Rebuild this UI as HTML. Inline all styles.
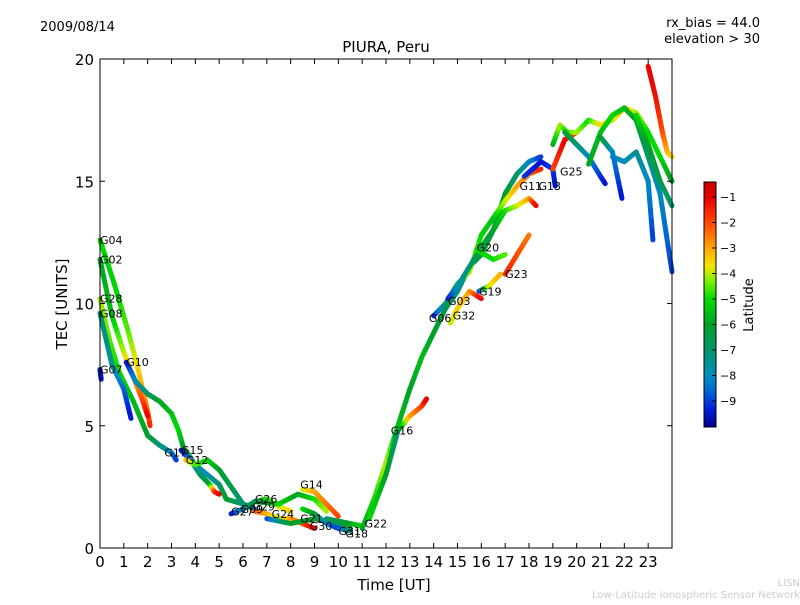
<!DOCTYPE html>
<html><head><meta charset="utf-8"><style>
body{margin:0;background:#fff;}
svg text{font-family:"DejaVu Sans","Liberation Sans",sans-serif;}
</style></head><body>
<svg id="chart" width="800" height="600" viewBox="0 0 800 600" xmlns="http://www.w3.org/2000/svg">
<defs>
<linearGradient id="jet" x1="0" y1="1" x2="0" y2="0">
<stop offset="0" stop-color="rgb(0,0,140)"/>
<stop offset="0.073" stop-color="rgb(0,30,220)"/>
<stop offset="0.156" stop-color="rgb(0,110,210)"/>
<stop offset="0.208" stop-color="rgb(0,140,190)"/>
<stop offset="0.3125" stop-color="rgb(0,150,110)"/>
<stop offset="0.417" stop-color="rgb(0,160,40)"/>
<stop offset="0.521" stop-color="rgb(0,220,0)"/>
<stop offset="0.594" stop-color="rgb(120,240,0)"/>
<stop offset="0.656" stop-color="rgb(240,230,0)"/>
<stop offset="0.729" stop-color="rgb(255,170,0)"/>
<stop offset="0.833" stop-color="rgb(255,70,0)"/>
<stop offset="0.9375" stop-color="rgb(230,0,0)"/>
<stop offset="1" stop-color="rgb(200,0,0)"/>
</linearGradient>
</defs>
<text x="40" y="31" font-size="13">2009/08/14</text>
<text x="760" y="27" font-size="13" text-anchor="end">rx_bias = 44.0</text>
<text x="760" y="43" font-size="13" text-anchor="end">elevation &gt; 30</text>
<text x="386" y="52" font-size="15" text-anchor="middle">PIURA, Peru</text>
<text x="394" y="590" font-size="15" text-anchor="middle">Time [UT]</text>
<text x="67" y="304" font-size="15" text-anchor="middle" transform="rotate(-90 67 304)">TEC [UNITS]</text>
<text x="800" y="586" font-size="10" fill="#ccc" text-anchor="end">LISN</text>
<text x="800" y="598" font-size="10" fill="#ccc" text-anchor="end">Low-Latitude Ionospheric Sensor Network</text>
<g id="marks"></g>
<g id="labels"></g>
<rect x="100" y="59" width="572" height="489" fill="none" stroke="#000" stroke-width="1"/>
<g id="axes"></g>
<rect x="704" y="182" width="12" height="245" fill="url(#jet)" stroke="#000" stroke-width="1"/>
<g id="cbticks"></g>
<text x="753" y="305" font-size="13" text-anchor="middle" transform="rotate(-90 753 305)">Latitude</text>
</svg>
<script>
const xTicks=[0,1,2,3,4,5,6,7,8,9,10,11,12,13,14,15,16,17,18,19,20,21,22,23];
const yTicks=[0,5,10,15,20];
const cbTicks=[-1,-2,-3,-4,-5,-6,-7,-8,-9];
// each track: points [hour, tec, latitude]
const trackG04=[[0,12.6,-5],[0.6,10.8,-5.2],[1.2,8.8,-4.5],[1.6,7.3,-3.5],[2.0,5.6,-2.5],[2.1,5.0,-1.5]];
const trackG02=[[0,11.8,-6],[0.5,9.5,-5.5],[1,8,-4],[1.4,7,-3],[1.8,6,-2],[2.0,5.4,-1]];
const trackG28=[[0,10.2,-4],[0.4,8.5,-4.5],[0.8,7.2,-5],[1.4,6,-5.5],[2,4.6,-6],[2.5,4.2,-7],[3,3.9,-8],[3.2,3.6,-9]];
const trackG08=[[0,9.6,-7],[0.5,7.5,-7.5],[1,6.5,-8.5],[1.3,5.3,-9.5]];
const trackG07=[[0,7.3,-9.5],[0.05,6.9,-9.5]];
const trackG10=[[1.1,7.6,-9.5],[1.5,6.8,-8],[2,6.3,-7],[2.5,6.0,-6],[3,5.5,-5.5],[3.3,4.8,-5],[3.5,4.1,-6],[4,3.4,-7],[4.5,3,-8],[5,2.6,-7],[5.3,2.0,-6],[6,1.8,-7],[6.5,1.6,-8]];
const trackG15=[[3.4,4.0,-9.5],[3.8,3.6,-8.5],[4.2,3.0,-7],[4.6,2.6,-6],[4.8,2.3,-2],[5,2.2,-1]];
const trackG12=[[3.6,3.6,-3],[4,3.4,-4.5],[4.5,3.6,-5],[5,3.2,-6],[5.5,2.5,-6.5],[6,1.8,-7],[6.5,1.6,-8]];
const trackG27=[[5.5,1.4,-9.5],[6,1.6,-8],[6.5,1.9,-6],[7,2.0,-5],[7.5,1.7,-4],[8,1.5,-3.5]];
const trackG26=[[6.5,1.9,-7],[7.5,1.8,-5],[8.3,2.2,-6],[9,2.0,-5],[9.5,1.5,-4]];
const trackG24=[[6.5,1.5,-2],[7,1.4,-3],[7.5,1.2,-4],[8,1.2,-3],[8.5,1.0,-2],[9,0.8,-1]];
const trackG14=[[8.5,2.4,-4],[9,2.3,-3],[9.5,1.8,-2.5],[10,1.3,-2]];
const trackG21=[[7,1.2,-9],[8,1.0,-6],[9,1.2,-6],[10,1.0,-7],[10.5,0.8,-6]];
const trackG30=[[8.5,1.6,-5],[9,1.4,-6],[9.5,1.0,-8],[10,0.8,-9],[10.5,0.7,-7]];
const trackG18=[[9.5,1.2,-7],[10.5,1.0,-6],[11,0.9,-5]];
const trackG22=[[11,0.8,-6],[11.5,2,-5],[12,3.5,-4],[12.5,5,-5.5],[13,6.5,-6],[13.5,7.8,-5.5],[14,8.8,-6],[14.5,9.8,-6.5],[15,10.5,-7],[15.5,11.5,-7.5],[16,12,-6],[16.5,13,-6.5],[17,14.5,-6],[17.5,15.3,-7],[18,15.8,-8],[18.5,16,-9]];
const trackG16=[[11.3,1.2,-5],[12,3,-6],[12.5,4.8,-7],[13,5.4,-3],[13.5,5.8,-2],[13.7,6.1,-1]];
const trackG06=[[14,9.5,-9.5],[14.5,10,-7],[15,10.8,-5.5],[15.5,11.3,-4],[16,12.8,-5],[16.5,13.5,-5.5],[17,14.2,-4],[17.5,14.8,-3],[18,15.3,-2.5],[18.5,15.5,-1.5]];
const trackG03=[[14.6,10.2,-9.5],[15,10.7,-8],[15.5,11.5,-7],[16,12.3,-6.5],[16.5,13,-6],[17,13.8,-5],[17.5,14,-4],[18,14.3,-3],[18.3,14,-1]];
const trackG32=[[14.7,9.2,-4],[15,9.8,-3.5],[15.5,10.5,-3],[16,10.2,-1]];
const trackG19=[[15.9,10.5,-9.5],[16.3,10.7,-4],[16.8,11.2,-3]];
const trackG20=[[15.8,12.2,-5],[16.5,11.8,-5],[17,12,-4.5]];
const trackG23=[[17,11.2,-1.5],[17.5,12,-2],[18,12.8,-2.5]];
const trackG11=[[17.8,15.2,-9],[18.5,15.8,-9.5],[19,15.5,-9],[19.1,14.8,-9.5]];
const trackG25=[[19,15.5,-2],[19.5,16.7,-1],[20,17,-2]];
const trackA=[[19,16.5,-6],[19.3,17.3,-4],[19.6,17,-5],[20,17,-4],[20.5,17.5,-5],[21,17.3,-3.5],[21.5,17.5,-4],[22,18,-3],[22.5,17.8,-4],[23,17,-5],[23.5,16,-5],[24,15,-6]];
const trackB=[[19.5,17,-6],[20,16.5,-7],[20.5,16,-8],[21,15.2,-9],[21.2,14.9,-9.5]];
const trackC=[[20.5,15.7,-6],[21,17,-5.5],[21.5,17.7,-5],[22,18,-5.5],[22.5,17.5,-6],[23,16,-7],[23.5,14.5,-8],[24,11.3,-9]];
const trackD=[[21.5,16,-8],[22,15.8,-8],[22.5,16.2,-7.5],[23,15,-8],[23.2,12.6,-9]];
const trackE=[[21,16.8,-6],[21.5,16.2,-8],[21.9,14.3,-9.5]];
const trackF=[[23,19.7,-1],[23.3,18.5,-1.2],[23.6,17,-2],[23.8,16.2,-3],[24,16,-3.5]];
const trackG=[[22.5,17.7,-5],[23,16.5,-6],[23.5,15,-6.5],[24,14,-7]];
const tracks=[trackG04,trackG02,trackG28,trackG08,trackG07,trackG10,trackG15,trackG12,trackG27,trackG26,trackG24,trackG14,trackG21,trackG30,trackG18,trackG22,trackG16,trackG06,trackG03,trackG32,trackG19,trackG20,trackG23,trackG11,trackG25,trackA,trackB,trackC,trackD,trackE,trackF,trackG];
const satNames=["G04","G02","G28","G08","G07","G10","G15","G12","G27","G26","G24","G14","G21","G30","G18","G22","G16","G06","G03","G32","G19","G20","G23","G11","G13","G25","G17","G09","G29","G31"];
const satHours=[0,0,0,0,0,1.1,3.4,3.6,5.5,6.5,7.2,8.4,8.4,8.8,10.3,11.1,12.2,13.8,14.6,14.8,15.9,15.8,17,17.6,18.4,19.3,2.7,5.9,6.4,10];
const satTec=[12.6,11.8,10.2,9.6,7.3,7.6,4.0,3.6,1.5,2.0,1.4,2.6,1.2,0.9,0.6,1.0,4.8,9.4,10.1,9.5,10.5,12.3,11.2,14.8,14.8,15.4,3.9,1.6,1.7,0.7];
const svgNS="http://www.w3.org/2000/svg";
const X0=100,X1=672,Y0=548,Y1=59;
const xs=h=>X0+h*(X1-X0)/24;
const ys=v=>Y0-v*(Y0-Y1)/20;
const cbY=v=>197+(-1-v)*25.5;
const cmLat=[-10,-9.3,-8.5,-8,-7,-6,-5,-4.3,-3.7,-3,-2,-1,-0.4];
const cmRGB=[[0,0,140],[0,30,220],[0,110,210],[0,140,190],[0,150,110],[0,160,40],[0,220,0],[120,240,0],[240,230,0],[255,170,0],[255,70,0],[230,0,0],[200,0,0]];
function jet(lat){lat=Math.max(-10,Math.min(-0.4,lat));
 let i=0;while(i<cmLat.length-2&&lat>cmLat[i+1])i++;
 const u=(lat-cmLat[i])/(cmLat[i+1]-cmLat[i]);const a=cmRGB[i],b=cmRGB[i+1];
 return `rgb(${Math.round(a[0]+(b[0]-a[0])*u)},${Math.round(a[1]+(b[1]-a[1])*u)},${Math.round(a[2]+(b[2]-a[2])*u)})`;}
const marks=document.getElementById('marks');
tracks.forEach((tr,ti)=>{
 for(let i=0;i<tr.length-1;i++){
  const a=tr[i],b=tr[i+1];const n=6;
  for(let k=0;k<n;k++){
   const u0=k/n,u1=(k+1)/n,um=(u0+u1)/2;
   const l=document.createElementNS(svgNS,'line');
   
   
   l.setAttribute('x1',xs(a[0]+(b[0]-a[0])*u0));l.setAttribute('y1',ys(a[1]+(b[1]-a[1])*u0));
   l.setAttribute('x2',xs(a[0]+(b[0]-a[0])*u1));l.setAttribute('y2',ys(a[1]+(b[1]-a[1])*u1));
   l.setAttribute('stroke',jet(a[2]+(b[2]-a[2])*um));l.setAttribute('stroke-width','5');l.setAttribute('stroke-linecap','round');
   marks.appendChild(l);
  }
 }
});
const lab=document.getElementById('labels');
satNames.forEach((s,i)=>{
 const t=document.createElementNS(svgNS,'text');
 
 
 t.setAttribute('x',xs(satHours[i]));t.setAttribute('y',ys(satTec[i])+4);t.setAttribute('font-size','11');t.textContent=s;lab.appendChild(t);
});
const axes=document.getElementById('axes');
function ln(x1,y1,x2,y2){const l=document.createElementNS(svgNS,'line');l.setAttribute('x1',x1);l.setAttribute('y1',y1);l.setAttribute('x2',x2);l.setAttribute('y2',y2);l.setAttribute('stroke','#000');l.setAttribute('stroke-width','1');axes.appendChild(l);return l;}
xTicks.forEach(h=>{const x=xs(h);
 const a=ln(x,Y0,x,Y0-5);
 const b=ln(x,Y1,x,Y1+5);
 const t=document.createElementNS(svgNS,'text');
 
 
 t.setAttribute('x',x);t.setAttribute('y',567);t.setAttribute('font-size','15');t.setAttribute('text-anchor','middle');t.textContent=h;axes.appendChild(t);});
yTicks.forEach(v=>{const y=ys(v);
 const a=ln(X0,y,X0+5,y);
 const b=ln(X1,y,X1-5,y);
 const t=document.createElementNS(svgNS,'text');
 
 
 t.setAttribute('x',94);t.setAttribute('y',y+6);t.setAttribute('font-size','15');t.setAttribute('text-anchor','end');t.textContent=v;axes.appendChild(t);});
const cbt=document.getElementById('cbticks');
cbTicks.forEach(v=>{const y=cbY(v);
 const l=document.createElementNS(svgNS,'line');
 
 
 l.setAttribute('x1',712);l.setAttribute('x2',716);l.setAttribute('y1',y);l.setAttribute('y2',y);l.setAttribute('stroke','#000');cbt.appendChild(l);
 const t=document.createElementNS(svgNS,'text');
 
 
 t.setAttribute('x',720);t.setAttribute('y',y+4);t.setAttribute('font-size','11');t.textContent='\u2212'+Math.abs(v);cbt.appendChild(t);});
</script>
</body></html>
